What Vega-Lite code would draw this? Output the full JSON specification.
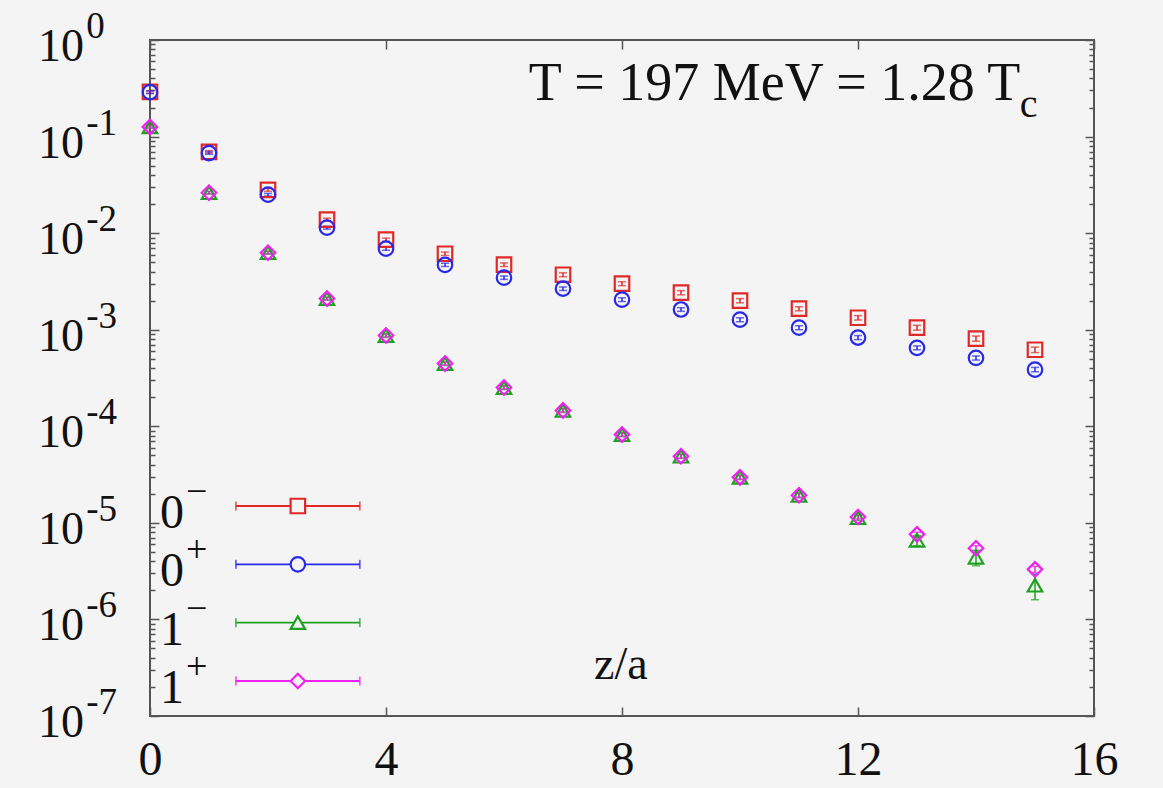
{
  "$schema": "https://vega.github.io/schema/vega-lite/v6.json",
  "autosize": "none",
  "width": 944,
  "height": 676,
  "padding": {"left": 150, "top": 40, "right": 69, "bottom": 72},
  "background": "#f4f4f4",
  "config": {
    "view": {"stroke": "#555555", "strokeWidth": 2},
    "font": "Liberation Serif"
  },
  "datasets": {
    "main": [
      {"ch":"0-","z":0,"v":0.29,"lo":0.281,"hi":0.299},
      {"ch":"0-","z":1,"v":0.0695,"lo":0.0674,"hi":0.0716},
      {"ch":"0-","z":2,"v":0.0281,"lo":0.0271,"hi":0.0291},
      {"ch":"0-","z":3,"v":0.0138,"lo":0.0133,"hi":0.0143},
      {"ch":"0-","z":4,"v":0.00855,"lo":0.00822,"hi":0.00888},
      {"ch":"0-","z":5,"v":0.00612,"lo":0.00587,"hi":0.00637},
      {"ch":"0-","z":6,"v":0.00471,"lo":0.00451,"hi":0.00491},
      {"ch":"0-","z":7,"v":0.00371,"lo":0.00354,"hi":0.00388},
      {"ch":"0-","z":8,"v":0.003,"lo":0.00286,"hi":0.00314},
      {"ch":"0-","z":9,"v":0.00242,"lo":0.0023,"hi":0.00254},
      {"ch":"0-","z":10,"v":0.002,"lo":0.0019,"hi":0.0021},
      {"ch":"0-","z":11,"v":0.00165,"lo":0.00157,"hi":0.00173},
      {"ch":"0-","z":12,"v":0.00133,"lo":0.00126,"hi":0.0014},
      {"ch":"0-","z":13,"v":0.00105,"lo":0.00099,"hi":0.00111},
      {"ch":"0-","z":14,"v":0.00081,"lo":0.00076,"hi":0.00086},
      {"ch":"0-","z":15,"v":0.00062,"lo":0.00058,"hi":0.00066},
      {"ch":"0+","z":0,"v":0.288,"lo":0.279,"hi":0.297},
      {"ch":"0+","z":1,"v":0.0675,"lo":0.0655,"hi":0.0695},
      {"ch":"0+","z":2,"v":0.025,"lo":0.0242,"hi":0.0258},
      {"ch":"0+","z":3,"v":0.0114,"lo":0.011,"hi":0.0118},
      {"ch":"0+","z":4,"v":0.0069,"lo":0.00665,"hi":0.00715},
      {"ch":"0+","z":5,"v":0.0047,"lo":0.00452,"hi":0.00488},
      {"ch":"0+","z":6,"v":0.00346,"lo":0.00332,"hi":0.0036},
      {"ch":"0+","z":7,"v":0.00266,"lo":0.00255,"hi":0.00277},
      {"ch":"0+","z":8,"v":0.00205,"lo":0.00196,"hi":0.00214},
      {"ch":"0+","z":9,"v":0.00162,"lo":0.00155,"hi":0.00169},
      {"ch":"0+","z":10,"v":0.00127,"lo":0.00121,"hi":0.00133},
      {"ch":"0+","z":11,"v":0.00105,"lo":0.001,"hi":0.0011},
      {"ch":"0+","z":12,"v":0.00083,"lo":0.00079,"hi":0.00087},
      {"ch":"0+","z":13,"v":0.00065,"lo":0.00062,"hi":0.00068},
      {"ch":"0+","z":14,"v":0.00051,"lo":0.000485,"hi":0.000535},
      {"ch":"0+","z":15,"v":0.000387,"lo":0.000367,"hi":0.000407},
      {"ch":"1-","z":0,"v":0.126,"lo":0.122,"hi":0.13},
      {"ch":"1-","z":1,"v":0.0262,"lo":0.0253,"hi":0.0271},
      {"ch":"1-","z":2,"v":0.00627,"lo":0.00605,"hi":0.00649},
      {"ch":"1-","z":3,"v":0.0021,"lo":0.00202,"hi":0.00218},
      {"ch":"1-","z":4,"v":0.00087,"lo":0.00083,"hi":0.00091},
      {"ch":"1-","z":5,"v":0.000446,"lo":0.000426,"hi":0.000466},
      {"ch":"1-","z":6,"v":0.000252,"lo":0.00024,"hi":0.000264},
      {"ch":"1-","z":7,"v":0.000146,"lo":0.000139,"hi":0.000153},
      {"ch":"1-","z":8,"v":0.000082,"lo":0.000078,"hi":0.000086},
      {"ch":"1-","z":9,"v":0.000049,"lo":0.0000465,"hi":0.0000515},
      {"ch":"1-","z":10,"v":0.0000296,"lo":0.000028,"hi":0.0000312},
      {"ch":"1-","z":11,"v":0.0000193,"lo":0.0000182,"hi":0.0000204},
      {"ch":"1-","z":12,"v":0.0000113,"lo":0.0000106,"hi":0.000012},
      {"ch":"1-","z":13,"v":0.0000066,"lo":0.0000058,"hi":0.0000074},
      {"ch":"1-","z":14,"v":0.0000044,"lo":0.0000036,"hi":0.0000052},
      {"ch":"1-","z":15,"v":0.00000226,"lo":0.0000016,"hi":0.00000295},
      {"ch":"1+","z":0,"v":0.126,"lo":0.123,"hi":0.129},
      {"ch":"1+","z":1,"v":0.0262,"lo":0.0255,"hi":0.0269},
      {"ch":"1+","z":2,"v":0.00627,"lo":0.0061,"hi":0.00644},
      {"ch":"1+","z":3,"v":0.0021,"lo":0.00204,"hi":0.00216},
      {"ch":"1+","z":4,"v":0.00087,"lo":0.000845,"hi":0.000895},
      {"ch":"1+","z":5,"v":0.000446,"lo":0.000432,"hi":0.00046},
      {"ch":"1+","z":6,"v":0.000252,"lo":0.000244,"hi":0.00026},
      {"ch":"1+","z":7,"v":0.000146,"lo":0.000141,"hi":0.000151},
      {"ch":"1+","z":8,"v":0.000082,"lo":0.000079,"hi":0.000085},
      {"ch":"1+","z":9,"v":0.000049,"lo":0.000047,"hi":0.000051},
      {"ch":"1+","z":10,"v":0.0000296,"lo":0.0000284,"hi":0.0000308},
      {"ch":"1+","z":11,"v":0.0000193,"lo":0.0000185,"hi":0.0000201},
      {"ch":"1+","z":12,"v":0.0000115,"lo":0.000011,"hi":0.000012},
      {"ch":"1+","z":13,"v":0.0000076,"lo":0.0000072,"hi":0.000008},
      {"ch":"1+","z":14,"v":0.00000545,"lo":0.0000051,"hi":0.0000058},
      {"ch":"1+","z":15,"v":0.0000033,"lo":0.00000305,"hi":0.00000355}
    ],
    "legend": [
      {"ch":"0-","base":"0","sup":"−"},
      {"ch":"0+","base":"0","sup":"+"},
      {"ch":"1-","base":"1","sup":"−"},
      {"ch":"1+","base":"1","sup":"+"}
    ],
    "ylab": [
      {"v":1,"e":"0"},
      {"v":0.1,"e":"-1"},
      {"v":0.01,"e":"-2"},
      {"v":0.001,"e":"-3"},
      {"v":0.0001,"e":"-4"},
      {"v":0.00001,"e":"-5"},
      {"v":0.000001,"e":"-6"},
      {"v":0.0000001,"e":"-7"}
    ]
  },
  "resolve": {"scale": {"y": "independent"}, "axis": {"x": "independent", "y": "independent"}},
  "layer": [
    {
      "data": {"name": "main"},
      "mark": {"type": "rule", "strokeWidth": 1.5},
      "encoding": {
        "x": {"field": "z", "type": "quantitative", "scale": {"domain": [0, 16], "nice": false},
          "axis": {"orient": "top", "values": [0,4,8,12,16], "labels": false, "tickSize": -9, "tickColor": "#555555", "tickWidth": 1.5, "domain": false, "grid": false, "title": null}},
        "y": {"field": "lo", "type": "quantitative", "scale": {"type": "log", "domain": [1e-7, 1], "nice": false},
          "axis": {"orient": "right", "values": [1e-7,2e-7,3e-7,4e-7,5e-7,6e-7,7e-7,8e-7,9e-7,1e-6,2e-6,3e-6,4e-6,5e-6,6e-6,7e-6,8e-6,9e-6,1e-5,2e-5,3e-5,4e-5,5e-5,6e-5,7e-5,8e-5,9e-5,1e-4,2e-4,3e-4,4e-4,5e-4,6e-4,7e-4,8e-4,9e-4,1e-3,2e-3,3e-3,4e-3,5e-3,6e-3,7e-3,8e-3,9e-3,0.01,0.02,0.03,0.04,0.05,0.06,0.07,0.08,0.09,0.1,0.2,0.3,0.4,0.5,0.6,0.7,0.8,0.9,1],
            "labels": false, "tickColor": "#555555", "tickWidth": 1.5, "domain": false, "grid": false, "title": null,
            "tickSize": {"condition": {"test": "abs(log(datum.value)/LN10 - round(log(datum.value)/LN10)) < 0.001", "value": -9}, "value": -5}}},
        "y2": {"field": "hi"},
        "color": {"field": "ch", "type": "nominal", "scale": {"domain": ["0-","0+","1-","1+"], "range": ["#e02828","#2828e8","#20a020","#f020f0"]}, "legend": null}
      }
    },
    {
      "data": {"name": "main"},
      "mark": {"type": "tick", "orient": "horizontal", "size": 8, "thickness": 1.5},
      "encoding": {
        "x": {"field": "z", "type": "quantitative", "axis": null},
        "y": {"field": "lo", "type": "quantitative", "scale": {"type": "log", "domain": [1e-7, 1], "nice": false}, "axis": null},
        "color": {"field": "ch", "type": "nominal", "legend": null}
      }
    },
    {
      "data": {"name": "main"},
      "mark": {"type": "tick", "orient": "horizontal", "size": 8, "thickness": 1.5},
      "encoding": {
        "x": {"field": "z", "type": "quantitative", "axis": null},
        "y": {"field": "hi", "type": "quantitative", "scale": {"type": "log", "domain": [1e-7, 1], "nice": false}, "axis": null},
        "color": {"field": "ch", "type": "nominal", "legend": null}
      }
    },
    {
      "data": {"name": "main"},
      "mark": {"type": "point", "filled": false, "strokeWidth": 2.2, "size": 210, "opacity": 1},
      "encoding": {
        "x": {"field": "z", "type": "quantitative",
          "axis": {"orient": "bottom", "values": [0,4,8,12,16], "tickSize": -9, "tickColor": "#555555", "tickWidth": 1.5, "domain": false, "grid": false, "title": null,
            "labelFont": "Liberation Serif", "labelFontSize": 48, "labelColor": "#111111", "labelPadding": 29, "labelFlush": false}},
        "y": {"field": "v", "type": "quantitative", "scale": {"type": "log", "domain": [1e-7, 1], "nice": false},
          "axis": {"orient": "left", "values": [1e-7,2e-7,3e-7,4e-7,5e-7,6e-7,7e-7,8e-7,9e-7,1e-6,2e-6,3e-6,4e-6,5e-6,6e-6,7e-6,8e-6,9e-6,1e-5,2e-5,3e-5,4e-5,5e-5,6e-5,7e-5,8e-5,9e-5,1e-4,2e-4,3e-4,4e-4,5e-4,6e-4,7e-4,8e-4,9e-4,1e-3,2e-3,3e-3,4e-3,5e-3,6e-3,7e-3,8e-3,9e-3,0.01,0.02,0.03,0.04,0.05,0.06,0.07,0.08,0.09,0.1,0.2,0.3,0.4,0.5,0.6,0.7,0.8,0.9,1],
            "labels": false, "tickColor": "#555555", "tickWidth": 1.5, "domain": false, "grid": false, "title": null,
            "tickSize": {"condition": {"test": "abs(log(datum.value)/LN10 - round(log(datum.value)/LN10)) < 0.001", "value": -9}, "value": -5}}},
        "color": {"field": "ch", "type": "nominal", "legend": null},
        "shape": {"field": "ch", "type": "nominal", "scale": {"domain": ["0-","0+","1-","1+"], "range": ["square","circle","triangle-up","diamond"]}, "legend": null}
      }
    },
    {
      "data": {"name": "ylab"},
      "mark": {"type": "text", "align": "right", "baseline": "alphabetic", "fontSize": 46, "font": "Liberation Serif", "color": "#111111", "dy": 21},
      "encoding": {
        "x": {"datum": -1.12, "type": "quantitative", "axis": null},
        "y": {"field": "v", "type": "quantitative", "scale": {"type": "log", "domain": [1e-7, 1], "nice": false}, "axis": null},
        "text": {"value": "10"}
      }
    },
    {
      "data": {"name": "ylab"},
      "mark": {"type": "text", "align": "left", "baseline": "alphabetic", "fontSize": 37, "font": "Liberation Serif", "color": "#111111", "dy": -2},
      "encoding": {
        "x": {"datum": -1.08, "type": "quantitative", "axis": null},
        "y": {"field": "v", "type": "quantitative", "scale": {"type": "log", "domain": [1e-7, 1], "nice": false}, "axis": null},
        "text": {"field": "e", "type": "nominal"}
      }
    },
    {
      "data": {"values": [{"t": "T = 197 MeV = 1.28 T"}]},
      "mark": {"type": "text", "align": "left", "baseline": "alphabetic", "fontSize": 54, "font": "Liberation Serif", "color": "#111111"},
      "encoding": {
        "x": {"datum": 6.42, "type": "quantitative", "axis": null},
        "y": {"datum": 0.239, "type": "quantitative", "scale": {"type": "log", "domain": [1e-7, 1], "nice": false}, "axis": null},
        "text": {"field": "t", "type": "nominal"}
      }
    },
    {
      "data": {"values": [{"t": "c"}]},
      "mark": {"type": "text", "align": "left", "baseline": "alphabetic", "fontSize": 40, "font": "Liberation Serif", "color": "#111111"},
      "encoding": {
        "x": {"datum": 14.74, "type": "quantitative", "axis": null},
        "y": {"datum": 0.16, "type": "quantitative", "scale": {"type": "log", "domain": [1e-7, 1], "nice": false}, "axis": null},
        "text": {"field": "t", "type": "nominal"}
      }
    },
    {
      "data": {"values": [{"t": "z/a"}]},
      "mark": {"type": "text", "align": "center", "baseline": "alphabetic", "fontSize": 46, "font": "Liberation Serif", "color": "#111111"},
      "encoding": {
        "x": {"datum": 7.98, "type": "quantitative", "axis": null},
        "y": {"datum": 2.41e-7, "type": "quantitative", "scale": {"type": "log", "domain": [1e-7, 1], "nice": false}, "axis": null},
        "text": {"field": "t", "type": "nominal"}
      }
    },
    {
      "data": {"name": "legend"},
      "mark": {"type": "rule", "strokeWidth": 1.8},
      "encoding": {
        "x": {"datum": 1.456, "type": "quantitative", "axis": null},
        "x2": {"datum": 3.556},
        "y": {"field": "ch", "type": "nominal", "scale": {"type": "point", "domain": ["0-","0+","1-","1+"], "range": [466, 641], "padding": 0}, "axis": null},
        "color": {"field": "ch", "type": "nominal", "legend": null}
      }
    },
    {
      "data": {"name": "legend"},
      "mark": {"type": "tick", "orient": "vertical", "size": 9, "thickness": 1.8},
      "encoding": {
        "x": {"datum": 1.456, "type": "quantitative", "axis": null},
        "y": {"field": "ch", "type": "nominal", "scale": {"type": "point", "domain": ["0-","0+","1-","1+"], "range": [466, 641], "padding": 0}, "axis": null},
        "color": {"field": "ch", "type": "nominal", "legend": null}
      }
    },
    {
      "data": {"name": "legend"},
      "mark": {"type": "tick", "orient": "vertical", "size": 9, "thickness": 1.8},
      "encoding": {
        "x": {"datum": 3.556, "type": "quantitative", "axis": null},
        "y": {"field": "ch", "type": "nominal", "scale": {"type": "point", "domain": ["0-","0+","1-","1+"], "range": [466, 641], "padding": 0}, "axis": null},
        "color": {"field": "ch", "type": "nominal", "legend": null}
      }
    },
    {
      "data": {"name": "legend"},
      "mark": {"type": "point", "filled": false, "strokeWidth": 2.2, "size": 210, "opacity": 1, "fill": "#f4f4f4"},
      "encoding": {
        "x": {"datum": 2.506, "type": "quantitative", "axis": null},
        "y": {"field": "ch", "type": "nominal", "scale": {"type": "point", "domain": ["0-","0+","1-","1+"], "range": [466, 641], "padding": 0}, "axis": null},
        "color": {"field": "ch", "type": "nominal", "legend": null},
        "shape": {"field": "ch", "type": "nominal", "legend": null}
      }
    },
    {
      "data": {"name": "legend"},
      "mark": {"type": "text", "align": "left", "baseline": "alphabetic", "fontSize": 48, "font": "Liberation Serif", "color": "#111111", "dy": 22},
      "encoding": {
        "x": {"datum": 0.17, "type": "quantitative", "axis": null},
        "y": {"field": "ch", "type": "nominal", "scale": {"type": "point", "domain": ["0-","0+","1-","1+"], "range": [466, 641], "padding": 0}, "axis": null},
        "text": {"field": "base", "type": "nominal"}
      }
    },
    {
      "data": {"name": "legend"},
      "mark": {"type": "text", "align": "left", "baseline": "alphabetic", "fontSize": 38, "font": "Liberation Serif", "color": "#111111", "dy": -2},
      "encoding": {
        "x": {"datum": 0.61, "type": "quantitative", "axis": null},
        "y": {"field": "ch", "type": "nominal", "scale": {"type": "point", "domain": ["0-","0+","1-","1+"], "range": [466, 641], "padding": 0}, "axis": null},
        "text": {"field": "sup", "type": "nominal"}
      }
    }
  ]
}
